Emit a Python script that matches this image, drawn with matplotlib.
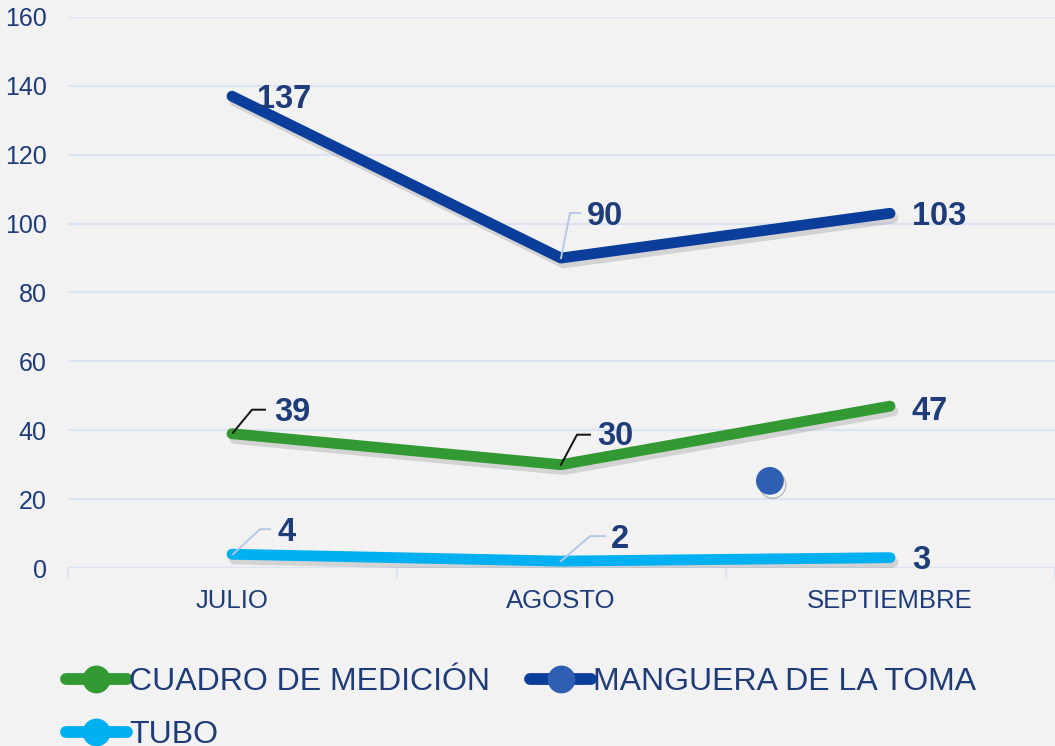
import numpy as np
import matplotlib
matplotlib.use("Agg")
import matplotlib.pyplot as plt
import matplotlib.patheffects as pe
import matplotlib.transforms as mtransforms
from matplotlib.lines import Line2D

plt.rcParams['font.family'] = ['Liberation Sans', 'DejaVu Sans']

months = ["JULIO", "AGOSTO", "SEPTIEMBRE"]
series_names = ["CUADRO DE MEDICIÓN", "MANGUERA DE LA TOMA", "TUBO"]
cuadro = [39, 30, 47]
manguera = [137, 90, 103]
tubo = [4, 2, 3]
y_ticks = [0, 20, 40, 60, 80, 100, 120, 140, 160]
stray_marker = (2.135, 25.3)

line_colors = ["#339933", "#0B3D9A", "#00B0F0"]
legend_marker_colors = ["#339933", "#2F5FB3", "#00B0F0"]
text_color = "#1F3C7A"
grid_color = "#DCE4F2"
bg = "#F2F2F2"

W, H = 1055, 746
fig = plt.figure(figsize=(W / 100, H / 100), dpi=100, facecolor=bg)
ax = fig.add_axes([67.5 / W, 1 - 568 / H, 987 / W, 551 / H], facecolor=bg)

x = np.arange(len(months)) + 0.5
ax.set_xlim(0, 3)
ax.set_ylim(0, 160)

for s in ax.spines.values():
    s.set_visible(False)
ax.yaxis.grid(True, color=grid_color, lw=1.6, zorder=0)
ax.set_axisbelow(True)
ax.axhline(0, color=grid_color, lw=1.6, zorder=1)

ax.set_yticks(y_ticks)
ax.set_yticklabels([str(v) for v in y_ticks])
ax.set_xticks(x)
ax.set_xticklabels(months)
ax.set_xticks(np.arange(0, 4), minor=True)
ax.tick_params(axis='y', length=0, pad=15, labelsize=18, labelcolor=text_color)
ax.tick_params(axis='x', which='major', length=0, pad=15, labelsize=18.5, labelcolor=text_color)
ax.tick_params(axis='x', which='minor', length=7, width=1.4, color=grid_color, direction='out')

shadow = [pe.SimpleLineShadow(offset=(2, -3.5), shadow_color='#666666', alpha=0.22), pe.Normal()]
all_series = [cuadro, manguera, tubo]
for vals, c in zip(all_series, line_colors):
    ax.plot(x, vals, color=c, lw=7.8, solid_capstyle='round', solid_joinstyle='round',
            path_effects=shadow, zorder=3)

# stray marker
ax.plot([stray_marker[0]], [stray_marker[1]], 'o', ms=19, color="#2F5FB3", mec="#2F5FB3",
        path_effects=[pe.SimpleLineShadow(offset=(2, -3), shadow_color='#555555', alpha=0.35), pe.Normal()],
        zorder=4)

# data labels: offsets in pixels (dx to left edge, dy to centre)
label_offsets = [
    [(42, 21), (36, 28), (22, -5)],
    [(25, -3), (26, 42), (22, -3)],
    [(45, 22), (50, 22), (22, -3)],
]
pale = "#B4C7E7"
leaders = {
    (1, 1): ([(0, 0), (9, 45), (19, 45)], pale),
    (0, 0): ([(1, 1), (20, 24), (33, 24)], "#111111"),
    (0, 1): ([(0, 0), (16, 30), (29, 30)], "#111111"),
    (2, 0): ([(1, 0), (28, 25), (38, 25)], pale),
    (2, 1): ([(0, 0), (29, 25), (44, 25)], pale),
}
for si, vals in enumerate(all_series):
    for pi, v in enumerate(vals):
        dx, dy = label_offsets[si][pi]
        ax.annotate(str(v), xy=(x[pi], v), xytext=(dx, dy), textcoords='offset pixels',
                    ha='left', va='center', fontsize=23.5, fontweight='bold',
                    color=text_color, zorder=6)
        if (si, pi) in leaders:
            pts, lc = leaders[(si, pi)]
            px, py = ax.transData.transform((x[pi], v))
            tr = mtransforms.Affine2D().translate(px, py)
            ln = Line2D([p[0] for p in pts], [p[1] for p in pts], color=lc, lw=1.4,
                        transform=tr, zorder=5)
            fig.add_artist(ln)

handles = [Line2D([0], [0], color=lc, lw=8.5, solid_capstyle='round', marker='o', ms=19,
                  mfc=mc, mec=mc)
           for lc, mc in zip(line_colors, legend_marker_colors)]
order = [0, 2, 1]
leg = fig.legend([handles[i] for i in order], [series_names[i] for i in order], loc='upper left',
                 bbox_to_anchor=(66 / W, 1 - 667 / H), bbox_transform=fig.transFigure,
                 ncol=2, frameon=False, fontsize=23, handlelength=1.9, handletextpad=0.08,
                 columnspacing=1.25, labelspacing=0.72, borderpad=0, borderaxespad=0)
for t in leg.get_texts():
    t.set_color(text_color)

fig.savefig("out.png", dpi=100, facecolor=bg)
